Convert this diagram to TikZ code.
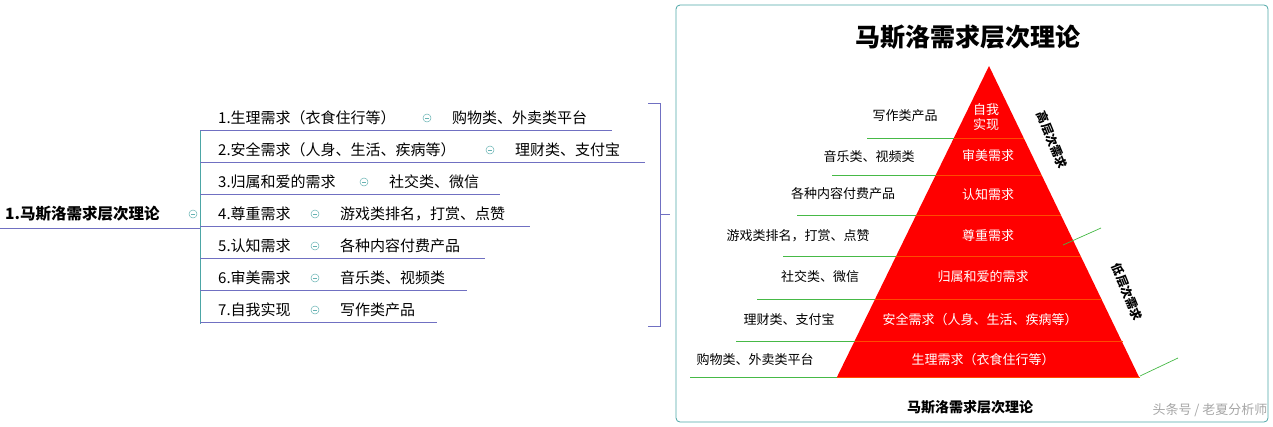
\documentclass[tikz,border=0pt]{standalone}
\usepackage{fontspec}
\setmainfont{Noto Sans CJK SC}
\begin{document}
\begin{tikzpicture}[x=1pt,y=-1pt,
  txt/.style={font=\fontsize{15}{15}\selectfont,inner sep=0pt,anchor=west},
  ptxt/.style={font=\fontsize{13}{15}\selectfont,inner sep=0pt,text=white},
  ltxt/.style={font=\fontsize{13}{14}\selectfont,inner sep=0pt},
  uline/.style={draw=blue!40!gray!80,line width=0.8pt},
  gline/.style={draw=green!45!gray,line width=0.7pt},
  minus/.style={circle,draw=teal!60,line width=0.5pt,minimum size=8pt,inner sep=0pt,
     path picture={\draw[teal!60,line width=0.5pt] ([xshift=-2pt]path picture bounding box.center)--([xshift=2pt]path picture bounding box.center);}}]
\useasboundingbox (0,0) rectangle (1273,426);
% frame
\draw[teal!70,line width=0.8pt,rounded corners=4pt] (676,5) rectangle (1268,422);
% left mind map
\node[font=\fontsize{15.5}{15}\selectfont\bfseries,inner sep=0pt,anchor=west] (root) at (5,214) {1.马斯洛需求层次理论};
\node[minus] (rm) at (193,214) {};
\coordinate (r0) at (0,228); \coordinate (r1) at (200,228);
\draw[uline] (r0)--(r1);
\coordinate (vt) at (200,130); \coordinate (vb) at (200,324);
\draw[teal!70,line width=0.8pt] (vt)--(vb);
\foreach \i/\y/\a/\cx/\b/\e in {
 1/118/{1.生理需求（衣食住行等）}/427/{购物类、外卖类平台}/612,
 2/150/{2.安全需求（人身、生活、疾病等）}/490/{理财类、支付宝}/645,
 3/182/{3.归属和爱的需求}/364/{社交类、微信}/500,
 4/214/{4.尊重需求}/315/{游戏类排名，打赏、点赞}/530,
 5/246/{5.认知需求}/315/{各种内容付费产品}/485,
 6/278/{6.审美需求}/315/{音乐类、视频类}/467,
 7/310/{7.自我实现}/315/{写作类产品}/437}{
  \node[txt] (a\i) at (218,\y) {\a};
  \node[minus] (m\i) at (\cx,\y) {};
  \node[txt] (b\i) at (\cx+25,\y) {\b};
  \coordinate (u\i) at (200,\y+12); \coordinate (v\i) at (\e,\y+12);
  \draw[uline] (u\i)--(v\i);
}
% bracket
\coordinate (k1) at (648,103); \coordinate (k2) at (660,103); \coordinate (k3) at (660,326); \coordinate (k4) at (648,326);
\coordinate (km) at (660,214); \coordinate (kt) at (670,214);
\draw[uline] (k1)--(k2)--(k3)--(k4); \draw[uline] (km)--(kt);
% title
\node[font=\fontsize{25}{25}\selectfont\bfseries,inner sep=0pt] (title) at (968,37) {马斯洛需求层次理论};
% pyramid
\coordinate (apex) at (989,66); \coordinate (bl) at (837,377); \coordinate (br) at (1139,377);
\fill[red] (apex)--(bl)--(br)--cycle;
\foreach \y/\lx in {138/867,175/832,215/797,256/783,299/757,341/736,377/690}{
  \pgfmathsetmacro\rx{989+(\y-66)*0.4855}
  \pgfmathsetmacro\px{989-(\y-66)*0.4887}
  \coordinate (gl\y) at (\lx,\y); \coordinate (gp\y) at (\px,\y); \coordinate (gr\y) at (\rx,\y);
  \draw[gline] (gl\y)--(gp\y);
  \draw[draw=orange!60!red,line width=0.7pt] (gp\y)--(gr\y);
}
\node[ptxt,align=center] (p7) at (986,117) {自我\\实现};
\node[ptxt] (p6) at (988,156) {审美需求};
\node[ptxt] (p5) at (988,195) {认知需求};
\node[ptxt] (p4) at (988,236) {尊重需求};
\node[ptxt] (p3) at (983,277) {归属和爱的需求};
\node[ptxt] (p2) at (980,320) {安全需求（人身、生活、疾病等）};
\node[ptxt] (p1) at (983,360) {生理需求（衣食住行等）};
\node[ltxt] (l7) at (905,116) {写作类产品};
\node[ltxt] (l6) at (869,157) {音乐类、视频类};
\node[ltxt] (l5) at (843,194) {各种内容付费产品};
\node[ltxt] (l4) at (798,236) {游戏类排名，打赏、点赞};
\node[ltxt] (l3) at (820,277) {社交类、微信};
\node[ltxt] (l2) at (789,320) {理财类、支付宝};
\node[ltxt] (l1) at (755,360) {购物类、外卖类平台};
\node[font=\fontsize{12}{13}\selectfont\bfseries,inner sep=0pt,rotate=-68] (hi) at (1052,140) {高层次需求};
\node[font=\fontsize{12}{13}\selectfont\bfseries,inner sep=0pt,rotate=-68] (lo) at (1127,292) {低层次需求};
\coordinate (s1) at (1063,245); \coordinate (s2) at (1101,228);
\coordinate (s3) at (1140,376); \coordinate (s4) at (1178,358);
\draw[gline] (s1)--(s2); \draw[gline] (s3)--(s4);
\node[font=\fontsize{14}{14}\selectfont\bfseries,inner sep=0pt] (cap) at (970,407) {马斯洛需求层次理论};
\node[font=\fontsize{13}{14}\selectfont,inner sep=0pt,text=gray!70] (wm) at (1210,410) {头条号 / 老夏分析师};
\end{tikzpicture}
\end{document}
